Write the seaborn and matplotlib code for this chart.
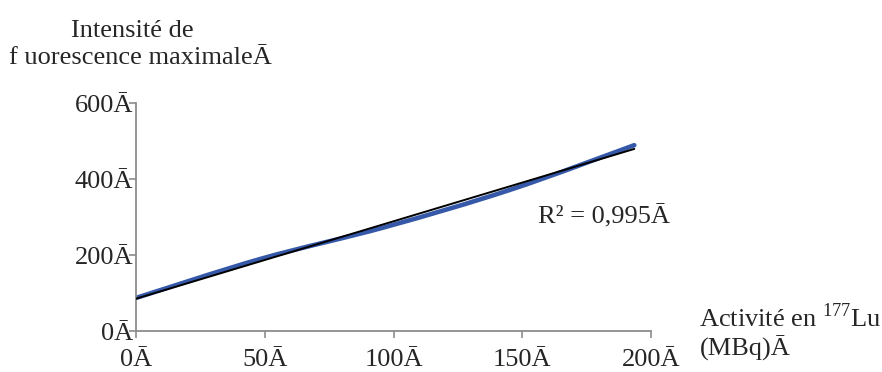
import numpy as np
import matplotlib
matplotlib.use("Agg")
import matplotlib.pyplot as plt
from matplotlib.path import Path
from matplotlib.patches import PathPatch
import seaborn as sns

# données
activite = [0, 48.5, 97, 145.5, 193.5]
intensite = [87, 190, 274, 372, 489]
xticks = [0, 50, 100, 150, 200]
yticks = [0, 200, 400, 600]
xtick_labels = ["0Ā", "50Ā", "100Ā", "150Ā", "200Ā"]
ytick_labels = ["0Ā", "200Ā", "400Ā", "600Ā"]
r2_label = "R² = 0,995Ā"

sns.set_style("ticks")
plt.rcParams['font.family'] = ['Liberation Serif', 'DejaVu Serif']
plt.rcParams['mathtext.fontset'] = 'custom'
plt.rcParams['mathtext.rm'] = 'Liberation Serif'

fig = plt.figure(figsize=(8.82, 3.72), dpi=100)
ax = fig.add_axes([0.1542, 0.1102, 0.5839, 0.6129])

# courbe lissée (style Excel) : bezier passant par les points
pts = np.column_stack([activite, intensite])
verts = [tuple(pts[0])]
codes = [Path.MOVETO]
n = len(pts)
for i in range(n - 1):
    p0 = pts[max(i - 1, 0)]
    p1 = pts[i]
    p2 = pts[i + 1]
    p3 = pts[min(i + 2, n - 1)]
    c1 = p1 + (p2 - p0) / 6.0
    c2 = p2 - (p3 - p1) / 6.0
    verts += [tuple(c1), tuple(c2), tuple(p2)]
    codes += [Path.CURVE4] * 3
ax.add_patch(PathPatch(Path(verts, codes), facecolor='none', edgecolor='#3558a8',
                       lw=3.3, capstyle='round', zorder=2))

# courbe de tendance linéaire
sns.regplot(x=activite, y=intensite, scatter=False, ci=None, truncate=True, ax=ax,
            line_kws={'color': 'black', 'lw': 1.4, 'zorder': 3})

ax.set_xlim(0, 200)
ax.set_ylim(0, 600)
ax.set_xticks(xticks)
ax.set_xticklabels(xtick_labels, fontsize=19)
ax.set_yticks(yticks)
ax.set_yticklabels(ytick_labels, fontsize=19)
ax.tick_params(axis='both', direction='out', length=5, width=1.2, color='#8c8c8c')
ax.tick_params(axis='x', pad=8)
ax.tick_params(axis='y', pad=-3)
for s in ['left', 'bottom']:
    ax.spines[s].set_color('#8c8c8c')
    ax.spines[s].set_linewidth(1.3)
sns.despine(ax=ax)

ax.text(156, 300, r2_label, fontsize=19, va='center', ha='left')

fig.text(0.1497, 0.918, "Intensité de", fontsize=19, ha='center', va='center')
fig.text(0.1587, 0.843, "f uorescence maximaleĀ", fontsize=19, ha='center', va='center')
fig.text(0.793, 0.145, "Activité en $^{177}$Lu", fontsize=19, ha='left', va='center')
fig.text(0.793, 0.065, "(MBq)Ā", fontsize=19, ha='left', va='center')

fig.savefig("out.png", dpi=100)
